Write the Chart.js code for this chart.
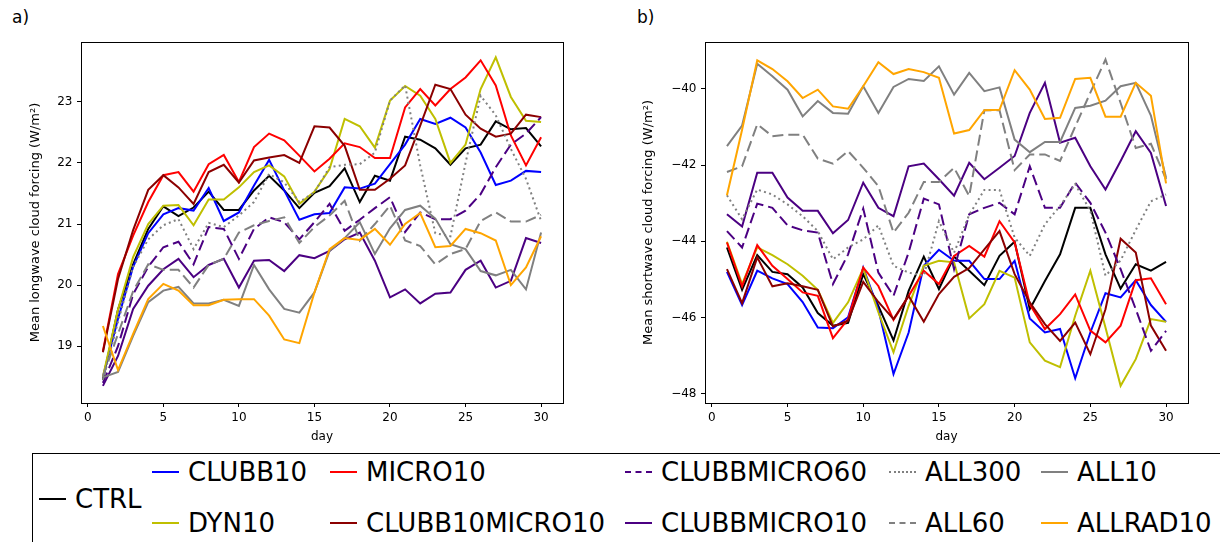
<!DOCTYPE html>
<html>
<head>
<meta charset="utf-8">
<script src="https://cdn.jsdelivr.net/npm/chart.js@4.4.0/dist/chart.umd.min.js"></script>
<style>
  body { margin: 0; background: #fff; font-family: "DejaVu Sans", sans-serif; }
  #wrap { position: relative; width: 1220px; height: 542px; overflow: hidden; background: #fff; }
  .panel { position: absolute; top: 0; width: 600px; height: 450px; }
  .tag { position: absolute; top: 7px; font-size: 17px; color: #000; }
  #legend { position: absolute; left: 32px; top: 453px; width: 1200px; height: 120px; border: 1.5px solid #000; }
  .item { position: absolute; display: flex; align-items: center; font-size: 26px; color: #000; white-space: nowrap; }
  .item span.ln { display: inline-block; width: 27px; height: 0; margin-right: 9px; }
</style>
</head>
<body>
<div id="wrap">
  <div class="tag" style="left:12px">a)</div>
  <div class="tag" style="left:637px">b)</div>
  <div class="panel" style="left:0"><canvas id="lwChart" width="600" height="450"></canvas></div>
  <div class="panel" style="left:620px"><canvas id="swChart" width="600" height="450"></canvas></div>
  <div id="legend"></div>
</div>
<script>
const days = [1,2,3,4,5,6,7,8,9,10,11,12,13,14,15,16,17,18,19,20,21,22,23,24,25,26,27,28,29,30];
const xTicks = [0, 5, 10, 15, 20, 25, 30];
const lwTicks = [19, 20, 21, 22, 23];
const swTicks = [-48, -46, -44, -42, -40];

// longwave (panel a)
const lwCTRL = [18.45,19.6,20.34,20.92,21.29,21.13,21.27,21.53,21.23,21.23,21.55,21.79,21.55,21.26,21.51,21.62,21.91,21.36,21.79,21.71,22.43,22.38,22.24,21.97,22.24,22.3,22.68,22.55,22.57,22.27];
const lwCLUBB10 = [18.5,19.45,20.3,20.85,21.16,21.26,21.22,21.59,21.05,21.19,21.63,22.05,21.55,21.07,21.16,21.18,21.6,21.58,21.66,21.98,22.3,22.72,22.64,22.74,22.58,22.17,21.64,21.71,21.87,21.85];
const lwMICRO10 = [18.92,20.18,20.81,21.36,21.8,21.85,21.53,21.98,22.13,21.69,22.26,22.48,22.37,22.12,21.86,22.07,22.32,22.26,22.08,22.08,22.91,23.21,22.94,23.21,23.4,23.68,23.27,22.45,21.96,22.42];
const lwDYN10 = [18.5,19.6,20.46,21.0,21.3,21.31,20.98,21.4,21.4,21.6,21.85,21.96,21.78,21.33,21.53,21.9,22.72,22.6,22.25,23.02,23.26,23.1,22.72,22.0,22.3,23.21,23.73,23.08,22.69,22.67];
const lwCLUBB10MICRO10 = [18.9,20.1,20.9,21.56,21.8,21.6,21.33,21.85,21.97,21.68,22.04,22.09,22.13,22.0,22.6,22.58,22.28,21.56,21.56,21.74,21.96,22.61,23.28,23.21,22.79,22.56,22.43,22.48,22.79,22.75];
const lwCLUBBMICRO60 = [18.4,19.0,19.85,20.3,20.62,20.71,20.34,20.95,20.92,20.43,20.92,21.11,21.03,20.75,21.03,21.33,20.89,21.07,21.26,21.44,20.87,21.19,21.08,21.08,21.22,21.49,21.93,22.3,22.48,22.75];
const lwCLUBBMICRO10 = [18.35,18.84,19.61,19.99,20.26,20.43,20.13,20.33,20.43,19.96,20.4,20.41,20.23,20.49,20.44,20.56,20.75,20.86,20.4,19.8,19.93,19.7,19.86,19.88,20.25,20.4,19.96,20.07,20.77,20.69];
const lwALL300 = [18.45,19.4,20.3,20.75,20.98,21.08,20.59,21.02,20.95,21.14,21.36,21.82,21.68,21.36,21.52,21.93,21.97,21.98,22.17,23.02,23.27,21.96,20.85,20.8,22.0,23.1,22.78,22.23,21.74,21.05];
const lwALL60 = [18.5,19.2,19.9,20.34,20.25,20.25,19.96,20.33,20.43,20.86,20.98,21.05,21.11,20.69,20.95,21.14,21.38,20.73,21.0,21.3,20.73,20.64,20.34,20.51,20.59,21.05,21.19,21.04,21.04,21.15];
const lwALL10 = [18.49,18.58,19.17,19.72,19.91,19.97,19.7,19.7,19.76,19.66,20.33,19.93,19.61,19.55,19.88,20.56,20.77,21.03,20.51,20.93,21.23,21.3,21.09,20.67,20.59,20.23,20.16,20.25,19.93,20.86];
const lwALLRAD10 = [19.33,18.61,19.2,19.77,20.02,19.91,19.67,19.67,19.76,19.77,19.77,19.5,19.11,19.05,19.88,20.59,20.77,20.74,20.92,20.66,21.0,21.18,20.62,20.64,20.92,20.85,20.73,20.0,20.29,20.8];

// shortwave (panel b)
const swCTRL = [-44.16,-45.27,-44.36,-44.8,-44.86,-45.21,-45.88,-46.21,-46.14,-44.86,-45.69,-46.6,-45.3,-44.4,-45.25,-44.4,-44.77,-45.15,-44.38,-44.01,-45.78,-45.04,-44.34,-43.12,-43.12,-44.34,-45.24,-44.6,-44.77,-44.54];
const swCLUBB10 = [-44.8,-45.67,-44.77,-44.97,-45.12,-45.59,-46.26,-46.28,-45.99,-44.69,-45.78,-47.48,-46.39,-44.64,-44.22,-44.51,-44.51,-44.99,-44.99,-44.51,-46.02,-46.39,-46.3,-47.59,-46.39,-45.36,-45.47,-45.02,-45.67,-46.11];
const swMICRO10 = [-44.03,-45.18,-44.1,-44.64,-44.99,-45.34,-45.43,-46.54,-46.04,-44.69,-45.17,-46.06,-45.43,-44.77,-45.12,-44.38,-44.12,-44.4,-43.47,-44.03,-45.65,-46.3,-45.91,-45.39,-46.34,-46.65,-46.21,-45.02,-44.97,-45.65];
const swDYN10 = [-44.01,-45.12,-44.16,-44.36,-44.6,-44.9,-45.27,-46.14,-45.6,-44.71,-45.86,-46.91,-45.69,-44.64,-44.51,-44.55,-46.02,-45.65,-44.77,-44.95,-46.65,-47.13,-47.3,-45.95,-44.77,-46.26,-47.79,-47.09,-46.04,-46.11];
const swCLUBB10MICRO10 = [-44.73,-45.62,-44.42,-45.18,-45.1,-45.18,-45.27,-46.23,-46.08,-45.06,-45.59,-46.04,-45.43,-46.11,-45.38,-44.93,-44.7,-44.21,-43.73,-44.86,-45.6,-46.17,-46.61,-46.13,-46.96,-45.78,-43.93,-44.29,-46.21,-46.87];
const swCLUBBMICRO60 = [-43.73,-44.16,-43.01,-43.12,-43.58,-43.71,-43.77,-45.12,-44.34,-43.14,-44.82,-45.43,-44.29,-42.88,-43.03,-44.73,-43.29,-43.12,-42.99,-43.29,-42.03,-43.12,-43.12,-42.46,-42.99,-43.77,-44.73,-45.78,-46.87,-46.35];
const swCLUBBMICRO10 = [-43.29,-43.61,-42.2,-42.2,-42.85,-43.2,-43.2,-43.79,-43.44,-42.46,-43.12,-43.34,-42.03,-41.96,-42.37,-42.8,-41.94,-42.37,-42.07,-41.76,-40.63,-39.84,-41.41,-41.28,-42.03,-42.64,-41.89,-41.11,-41.68,-43.07];
const swALL300 = [-42.79,-43.42,-42.64,-42.77,-43.03,-43.34,-43.73,-44.47,-44.16,-43.95,-43.58,-44.64,-44.82,-44.9,-43.47,-44.3,-43.3,-42.65,-42.65,-43.9,-44.38,-43.55,-43.07,-42.5,-43.2,-44.9,-44.5,-43.7,-42.95,-42.77];
const swALL60 = [-42.18,-42.03,-40.93,-41.24,-41.2,-41.2,-41.83,-41.96,-41.63,-42.07,-42.55,-43.77,-43.25,-42.44,-42.44,-42.07,-42.81,-40.56,-40.56,-42.13,-41.72,-41.72,-41.89,-40.99,-40.1,-39.23,-40.37,-41.55,-41.44,-42.37];
const swALL10 = [-41.5,-40.96,-39.34,-39.67,-40.02,-40.72,-40.32,-40.63,-40.65,-39.93,-40.63,-39.95,-39.74,-39.79,-39.41,-40.15,-39.58,-40.06,-39.96,-41.33,-41.66,-41.39,-41.39,-40.5,-40.44,-40.31,-39.93,-39.84,-40.7,-42.33];
const swALLRAD10 = [-42.79,-41.07,-39.25,-39.48,-39.8,-40.24,-40.02,-40.46,-40.52,-39.93,-39.3,-39.61,-39.48,-39.56,-39.71,-41.17,-41.08,-40.56,-40.55,-39.51,-40.02,-40.79,-40.76,-39.74,-39.71,-40.73,-40.73,-39.84,-40.18,-42.48];

// line styles per run
const runs = [
  { name: 'CTRL', color: '#000000', dash: [] },
  { name: 'CLUBB10', color: '#0000ff', dash: [] },
  { name: 'DYN10', color: '#bfbf00', dash: [] },
  { name: 'MICRO10', color: '#ff0000', dash: [] },
  { name: 'CLUBB10MICRO10', color: '#8b0000', dash: [] },
  { name: 'CLUBBMICRO60', color: '#4b0082', dash: [11, 5] },
  { name: 'CLUBBMICRO10', color: '#4b0082', dash: [] },
  { name: 'ALL300', color: '#808080', dash: [2, 3.3] },
  { name: 'ALL60', color: '#808080', dash: [11, 5] },
  { name: 'ALL10', color: '#808080', dash: [] },
  { name: 'ALLRAD10', color: '#ffa500', dash: [] }
];
const lwSeries = [lwCTRL, lwCLUBB10, lwDYN10, lwMICRO10, lwCLUBB10MICRO10, lwCLUBBMICRO60, lwCLUBBMICRO10, lwALL300, lwALL60, lwALL10, lwALLRAD10];
const swSeries = [swCTRL, swCLUBB10, swDYN10, swMICRO10, swCLUBB10MICRO10, swCLUBBMICRO60, swCLUBBMICRO10, swALL300, swALL60, swALL10, swALLRAD10];

const FONT = "'DejaVu Sans', sans-serif";

// full box round the plot, like matplotlib spines
const frame = {
  id: 'frame',
  afterDraw(chart) {
    const a = chart.chartArea;
    const ctx = chart.ctx;
    ctx.save();
    ctx.strokeStyle = '#000';
    ctx.lineWidth = 1;
    ctx.strokeRect(Math.round(a.left) + 0.5, Math.round(a.top) + 0.5, Math.round(a.right - a.left), Math.round(a.bottom - a.top));
    ctx.restore();
  }
};

function makeChart(id, series, yTicks, yMin, yMax, yTitle, axisW, rightPad, titlePad) {
  const datasets = runs.map((r, i) => ({
    label: r.name,
    data: days.map((d, j) => ({ x: d, y: series[i][j] })),
    borderColor: r.color,
    borderWidth: 2,
    borderDash: r.dash,
    pointRadius: 0,
    tension: 0,
    fill: false,
    order: runs.length - i
  }));
  return new Chart(document.getElementById(id), {
    type: 'line',
    data: { datasets },
    plugins: [frame],
    options: {
      responsive: false,
      animation: false,
      layout: { padding: { left: 0, right: rightPad, top: 42, bottom: 0 } },
      plugins: { legend: { display: false }, tooltip: { enabled: false } },
      scales: {
        x: {
          type: 'linear',
          min: -0.45,
          max: 31.45,
          afterBuildTicks: s => { s.ticks = xTicks.map(v => ({ value: v })); },
          afterFit: s => { s.height = 47; },
          grid: { drawOnChartArea: false, drawTicks: true, tickLength: 4, color: '#000' },
          border: { display: false },
          ticks: { color: '#000', font: { family: FONT, size: 12 }, padding: 4, maxRotation: 0 },
          title: { display: true, text: 'day', color: '#000', font: { family: FONT, size: 12 }, padding: { top: 0, bottom: 5.8 } }
        },
        y: {
          min: yMin,
          max: yMax,
          afterBuildTicks: s => { s.ticks = yTicks.map(v => ({ value: v })); },
          afterFit: s => { s.width = axisW; },
          grid: { drawOnChartArea: false, drawTicks: true, tickLength: 4, color: '#000' },
          border: { display: false },
          ticks: {
            color: '#000', font: { family: FONT, size: 12 }, padding: 4.5,
            callback: v => String(v).replace('-', '\u2212')
          },
          title: { display: true, text: yTitle, color: '#000', font: { family: FONT, size: 13 }, padding: { top: titlePad, bottom: 0 } }
        }
      }
    }
  });
}

makeChart('lwChart', lwSeries, lwTicks, 18.07, 23.98, 'Mean longwave cloud forcing (W/m\u00b2)', 81, 37, 28.2);
makeChart('swChart', swSeries, swTicks, -48.24, -38.77, 'Mean shortwave cloud forcing (W/m\u00b2)', 85, 32, 21.2);

// legend: CTRL on its own, then two rows of five
const legendCells = [
  { run: 'CTRL', x: 6, y: 45 },
  { run: 'CLUBB10', x: 119, y: 18 },
  { run: 'DYN10', x: 119, y: 69 },
  { run: 'MICRO10', x: 297, y: 18 },
  { run: 'CLUBB10MICRO10', x: 297, y: 69 },
  { run: 'CLUBBMICRO60', x: 592, y: 18 },
  { run: 'CLUBBMICRO10', x: 592, y: 69 },
  { run: 'ALL300', x: 856, y: 18 },
  { run: 'ALL60', x: 856, y: 69 },
  { run: 'ALL10', x: 1008, y: 18 },
  { run: 'ALLRAD10', x: 1008, y: 69 }
];
const legend = document.getElementById('legend');
legendCells.forEach(c => {
  const r = runs.find(q => q.name === c.run);
  const el = document.createElement('div');
  el.className = 'item';
  el.style.left = c.x + 'px';
  el.style.top = (c.y - 16) + 'px';
  el.style.height = '32px';
  const ln = document.createElement('span');
  ln.className = 'ln';
  const style = r.dash.length === 0 ? 'solid' : (r.dash[0] < 4 ? 'dotted' : 'dashed');
  ln.style.borderTop = '2px ' + style + ' ' + r.color;
  el.appendChild(ln);
  el.appendChild(document.createTextNode(r.name));
  legend.appendChild(el);
});
</script>
</body>
</html>
